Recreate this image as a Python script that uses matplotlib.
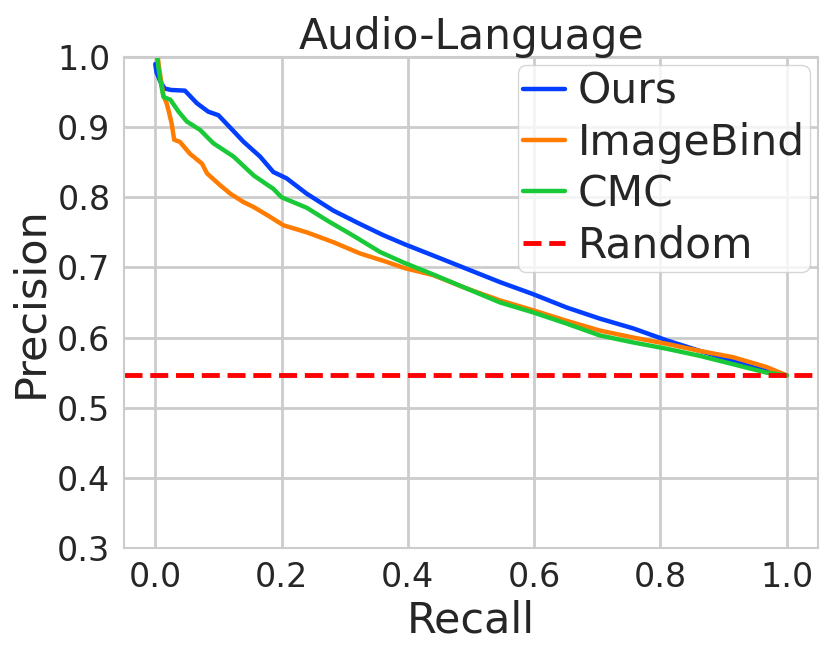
import matplotlib
matplotlib.use("Agg")
import matplotlib.pyplot as plt
import seaborn as sns

# ---- data ----
ours_recall = [0.000, 0.002, 0.008, 0.015, 0.025, 0.047, 0.066, 0.084, 0.100, 0.119,
               0.140, 0.166, 0.187, 0.208, 0.240, 0.282, 0.324, 0.361, 0.395, 0.440,
               0.493, 0.546, 0.598, 0.651, 0.704, 0.757, 0.810, 0.862, 0.915, 0.968, 1.000]
ours_prec = [0.990, 0.978, 0.965, 0.955, 0.953, 0.952, 0.934, 0.922, 0.917, 0.899,
             0.879, 0.858, 0.836, 0.827, 0.805, 0.781, 0.762, 0.746, 0.733, 0.717,
             0.698, 0.679, 0.662, 0.643, 0.627, 0.613, 0.596, 0.581, 0.567, 0.553, 0.546]

imagebind_recall = [0.004, 0.006, 0.010, 0.013, 0.018, 0.021, 0.026, 0.030, 0.039, 0.055,
                    0.074, 0.082, 0.103, 0.119, 0.140, 0.156, 0.182, 0.203, 0.240, 0.282,
                    0.324, 0.366, 0.395, 0.440, 0.493, 0.546, 0.598, 0.651, 0.704, 0.757,
                    0.810, 0.862, 0.915, 0.968, 1.000]
imagebind_prec = [1.000, 0.985, 0.962, 0.945, 0.934, 0.924, 0.905, 0.882, 0.879, 0.862,
                  0.848, 0.834, 0.817, 0.805, 0.793, 0.786, 0.772, 0.760, 0.750, 0.736,
                  0.720, 0.708, 0.699, 0.689, 0.670, 0.653, 0.639, 0.624, 0.610, 0.600,
                  0.591, 0.581, 0.572, 0.558, 0.546]

cmc_recall = [0.003, 0.005, 0.008, 0.013, 0.024, 0.037, 0.050, 0.071, 0.092, 0.124,
              0.156, 0.187, 0.200, 0.240, 0.272, 0.314, 0.356, 0.393, 0.440, 0.493,
              0.546, 0.598, 0.651, 0.704, 0.757, 0.810, 0.862, 0.915, 0.968, 1.000]
cmc_prec = [1.000, 0.985, 0.967, 0.943, 0.939, 0.922, 0.908, 0.896, 0.877, 0.858,
            0.831, 0.812, 0.800, 0.785, 0.767, 0.745, 0.722, 0.707, 0.690, 0.670,
            0.650, 0.636, 0.620, 0.603, 0.593, 0.584, 0.574, 0.562, 0.550, 0.546]

random_prec = 0.546

labels = ["Ours", "ImageBind", "CMC", "Random"]
x_ticks = [0.0, 0.2, 0.4, 0.6, 0.8, 1.0]
y_ticks = [0.3, 0.4, 0.5, 0.6, 0.7, 0.8, 0.9, 1.0]

# ---- style ----
sns.set_theme(style="whitegrid")
plt.rcParams["font.family"] = ["DejaVu Sans"]
colors = ["#023eff", "#ff7c00", "#1ac938", "red"]

fig = plt.figure(figsize=(8.3, 6.52), dpi=100)
ax = fig.add_subplot(111)
fig.subplots_adjust(left=0.149, right=0.986, top=0.9126, bottom=0.1595)

ax.plot(ours_recall, ours_prec, color=colors[0], lw=3.2, label=labels[0])
ax.plot(imagebind_recall, imagebind_prec, color=colors[1], lw=3.2, label=labels[1])
ax.plot(cmc_recall, cmc_prec, color=colors[2], lw=3.2, label=labels[2])
ax.axhline(random_prec, color=colors[3], lw=3.5, ls="--", label=labels[3])

ax.set_xlim(-0.05, 1.05)
ax.set_ylim(0.3, 1.0)
ax.set_xticks(x_ticks)
ax.set_yticks(y_ticks)
ax.set_xticklabels([f"{v:.1f}" for v in x_ticks])
ax.set_yticklabels([f"{v:.1f}" for v in y_ticks])
ax.tick_params(labelsize=24, colors="#262626")
ax.grid(True, color="#cccccc", lw=2)
for s in ax.spines.values():
    s.set_color("#cccccc")
    s.set_linewidth(1.5)

ax.set_xlabel("Recall", fontsize=31, color="#262626")
ax.set_ylabel("Precision", fontsize=31, color="#262626")
ax.set_title("Audio-Language", fontsize=30.5, color="#262626", pad=6)

ax.legend(loc="upper right", fontsize=30.5, handlelength=1.0, borderaxespad=0.2,
          labelspacing=0.22, handletextpad=0.3, borderpad=0.12)

fig.savefig("out.png", dpi=100)
